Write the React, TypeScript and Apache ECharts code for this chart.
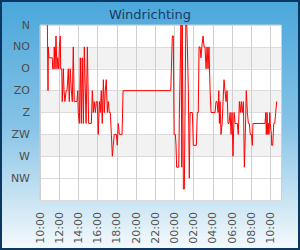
import React, { useEffect, useRef } from "react";
import * as echarts from "echarts";

const title = "Windrichting";
const directionLabels = ["N", "NO", "O", "ZO", "Z", "ZW", "W", "NW", ""];
const startLabel = "10:00";

const times = [
  "10:46","10:50","10:52","10:56","11:17","11:19","11:26","11:29","11:34","11:40",
  "11:46","11:51","11:57","12:01","12:07","12:09","12:16","12:19","12:26","12:30",
  "12:36","12:43","12:49","12:57","13:03","13:09","13:16","13:22","13:28","13:34",
  "13:51","13:56","13:59","14:06","14:12","14:18","14:24","14:31","14:37",
  "14:48","14:56","15:04","15:21","15:27","15:33","15:39","15:46","15:52","15:58",
  "16:04","16:11","16:17","16:23","16:29","16:36","16:42","16:48","16:54","17:01",
  "17:07","17:13","17:19","17:26","17:32","17:38","17:44","17:57","18:03","18:09",
  "18:16","18:33","18:39","23:37",
  "23:47","23:53","23:58","00:06","00:10","00:14","00:27","00:31","00:35","00:41",
  "00:46","00:49","00:56","01:02","01:11","01:17","01:21","01:27","01:33","01:38",
  "01:52","01:58","02:17","02:23","02:29","02:34","02:40","02:46","02:51","02:59",
  "03:05","03:11","03:18","03:24","03:30","03:36","03:43","03:49","04:01","04:08",
  "04:14","04:20","04:26","04:33","04:37","04:41","04:45","04:51","04:58","05:04",
  "05:10","05:16","05:23","05:29","05:35","05:41","05:48","05:54","06:00","06:06",
  "06:13","06:19","06:33","06:39","06:46","06:52","06:58","07:04","07:11","07:17",
  "07:23","07:29","07:36","07:42","07:48","07:54","08:01","08:07","08:11","09:26",
  "09:31","09:34","09:39","09:43","09:47","09:51","09:56","09:59","10:06","10:08",
  "10:14","10:21","10:27","10:33","10:39"
];

const directions = [
  0,135,45,67.5,67.5,90,90,45,90,22.5,
  90,67.5,90,45,22.5,90,90,157.5,90,135,
  157.5,135,135,90,157.5,90,135,157.5,45,157.5,
  157.5,135,180,202.5,67.5,202.5,67.5,202.5,45,
  202.5,45,202.5,202.5,135,180,157.5,180,157.5,157.5,
  225,157.5,180,135,202.5,112.5,180,135,112.5,180,
  157.5,180,180,225,270,247.5,225,225,247.5,202.5,
  225,225,135,135,
  22.5,22.5,225,225,247.5,292.5,292.5,180,180,0,
  292.5,0,337.5,337.5,0,0,45,135,315,180,
  180,247.5,247.5,180,180,45,45,67.5,45,22.5,
  45,45,90,45,90,45,135,180,180,180,
  180,157.5,157.5,180,135,202.5,157.5,225,202.5,157.5,
  112.5,135,157.5,135,202.5,202.5,180,225,180,270,
  180,202.5,202.5,225,157.5,180,157.5,180,157.5,292.5,
  225,135,180,202.5,202.5,225,225,247.5,202.5,202.5,
  180,225,180,225,202.5,225,180,202.5,225,247.5,
  247.5,202.5,202.5,180,157.5
];

const axisEndLabel = "11:06"; // next day

function toMin(s: string) {
  const [h, m] = s.split(":").map(Number);
  return h * 60 + m;
}

export default function App() {
  const ref = useRef<HTMLDivElement>(null);
  useEffect(() => {
    if (!ref.current) return;
    const chart = echarts.init(ref.current, null, { renderer: "svg" });
    const start = toMin(startLabel);
    let dayOff = 0;
    let prev = -1;
    const data = times.map((t, i) => {
      let m = toMin(t);
      if (prev >= 0 && m + dayOff < prev) dayOff += 1440;
      const v = m + dayOff;
      prev = v;
      return [v - start, directions[i]];
    });
    const xMax = toMin(axisEndLabel) + 1440 - start;
    const font = "DejaVu Sans";
    chart.setOption({
      animation: false,
      backgroundColor: {
        type: "linear", x: 0, y: 0, x2: 0, y2: 1,
        colorStops: [
          { offset: 0, color: "#4aa7db" },
          { offset: 0.5, color: "#86c3e6" },
          { offset: 0.8, color: "#c9e4f3" },
          { offset: 1, color: "#f6fafd" },
        ],
      },
      title: {
        text: title,
        left: "center",
        top: 3,
        textStyle: { fontSize: 13, fontWeight: "normal", color: "#183c68", fontFamily: font },
      },
      graphic: [
        {
          type: "rect",
          shape: { x: 1, y: 1, width: 298, height: 248 },
          style: { fill: "none", stroke: "#0b3763", lineWidth: 2 },
          z: 100,
        },
      ],
      grid: {
        left: 40, top: 25, width: 241, height: 175,
        show: true, backgroundColor: "#ffffff", borderColor: "#cccccc", borderWidth: 1,
      },
      xAxis: {
        type: "value",
        min: 0,
        max: xMax,
        interval: 120,
        axisLine: { show: false },
        axisTick: { show: false },
        splitLine: { show: true, lineStyle: { color: "#cfcfcf", width: 1 } },
        axisLabel: {
          rotate: 90,
          margin: 12,
          fontSize: 11,
          color: "#555555",
          fontFamily: font,
          showMaxLabel: false,
          formatter: (v: number) => {
            const t = (((v + start) % 1440) + 1440) % 1440;
            const h = Math.floor(t / 60);
            const m = t % 60;
            return String(h).padStart(2, "0") + ":" + String(m).padStart(2, "0");
          },
        },
      },
      yAxis: {
        type: "value",
        inverse: true,
        min: 0,
        max: 360,
        interval: 45,
        axisLine: { show: false },
        axisTick: { show: false },
        splitLine: { show: true, lineStyle: { color: "#dcdcdc", width: 1 } },
        splitArea: {
          show: true,
          areaStyle: {
            color: ["#ffffff", "#f2f2f2", "#ffffff", "#f2f2f2", "#ffffff", "#f2f2f2", "#ffffff", "#ffffff"],
          },
        },
        axisLabel: {
          margin: 10,
          fontSize: 11,
          color: "#4d4d4d",
          fontFamily: font,
          formatter: (v: number) => directionLabels[Math.round(v / 45)] ?? "",
        },
      },
      series: [
        {
          type: "line",
          data,
          showSymbol: false,
          symbol: "none",
          lineStyle: { color: "#ff0000", width: 1 },
          clip: true,
        },
      ],
    });
    return () => chart.dispose();
  }, []);
  return (
    <div
      ref={ref}
      style={{ position: "fixed", left: 0, top: 0, width: 300, height: 250 }}
    />
  );
}
